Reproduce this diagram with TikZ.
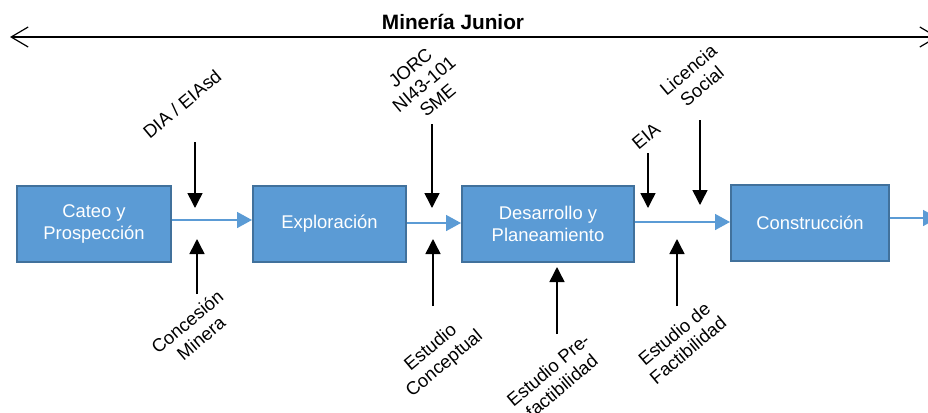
\documentclass[tikz,border=0pt]{standalone}
\usepackage{fontspec}
\setmainfont{Liberation Sans}
\usetikzlibrary{arrows.meta}
\definecolor{boxfill}{HTML}{5B9BD5}
\definecolor{boxline}{HTML}{41719C}
\definecolor{flowc}{HTML}{5B9BD5}
\tikzset{
  stage/.style={draw=boxline, line width=1pt, fill=boxfill, text=white, minimum height=38pt, inner sep=0pt, align=center, font=\fontsize{9.2}{10.9}\selectfont},
  flow/.style={draw=flowc, line width=0.8pt, -{Triangle[length=7.5pt,width=8pt]}},
  req/.style={draw=black, line width=0.75pt, -{Triangle[length=7.5pt,width=7.5pt]}},
  lbl/.style={rotate=40, align=center, inner sep=0pt, font=\fontsize{9.2}{10.6}\selectfont},
}
\begin{document}
\begin{tikzpicture}[x=0.5pt, y=-0.5pt]
\useasboundingbox (0,0) rectangle (928,413);
% top span
\coordinate (tl) at (10,37);
\coordinate (tr) at (938,37);
\draw[line width=0.6pt, {Straight Barb[length=8.5pt,width=10pt]}-{Straight Barb[length=8.5pt,width=10pt]}] (tl) -- (tr);
\node[font=\bfseries\fontsize{10.4}{12}\selectfont] (title) at (453,22) {Minería Junior};
% stages
\node[stage, minimum width=77pt] (b1) at (94,224) {Cateo y\\Prospección};
\node[stage, minimum width=76.5pt] (b2) at (329.5,224) {Exploración};
\node[stage, minimum width=86pt] (b3) at (548,224) {Desarrollo y\\Planeamiento};
\node[stage, minimum width=79pt] (b4) at (810,223) {Construcción};
\coordinate (out) at (938,218);
% flows
\draw[flow] ([yshift=2pt]b1.east) -- ([yshift=2pt]b2.west);
\draw[flow] ([yshift=0.5pt]b2.east) -- ([yshift=0.5pt]b3.west);
\draw[flow] ([yshift=1pt]b3.east) -- ([yshift=0.5pt]b4.west);
\draw[flow] (b4.east |- out) -- (out);
% requirement arrows
\coordinate (dia0) at (195,142);  \coordinate (dia1) at (195,208);
\coordinate (con0) at (197,294);  \coordinate (con1) at (197,239);
\coordinate (jor0) at (432,124);  \coordinate (jor1) at (432,208);
\coordinate (ecp0) at (433,306);  \coordinate (ecp1) at (433,239);
\coordinate (eia0) at (648,153);  \coordinate (eia1) at (648,208);
\coordinate (lic0) at (700,120);  \coordinate (lic1) at (700,205);
\coordinate (pre0) at (557,334);  \coordinate (pre1) at (557,267);
\coordinate (fac0) at (677,306);  \coordinate (fac1) at (677,239);
\draw[req] (dia0) -- (dia1);
\draw[req] (con0) -- (con1);
\draw[req] (jor0) -- (jor1);
\draw[req] (ecp0) -- (ecp1);
\draw[req] (eia0) -- (eia1);
\draw[req] (lic0) -- (lic1);
\draw[req] (pre0) -- (pre1);
\draw[req] (fac0) -- (fac1);
% labels
\node[lbl] (ldia) at (182,104) {DIA / EIAsd};
\node[lbl] (ljor) at (424,84) {JORC\\NI43-101\\SME};
\node[lbl] (leia) at (646,136) {EIA};
\node[lbl] (llic) at (695,78) {Licencia\\Social};
\node[lbl] (lcon) at (194,330) {Concesión\\Minera};
\node[lbl] (lecp) at (438,356) {Estudio\\Conceptual};
\node[lbl] (lpre) at (555,378) {Estudio Pre-\\factibilidad};
\node[lbl] (lfac) at (681,342) {Estudio de\\Factibilidad};
\end{tikzpicture}
\end{document}
